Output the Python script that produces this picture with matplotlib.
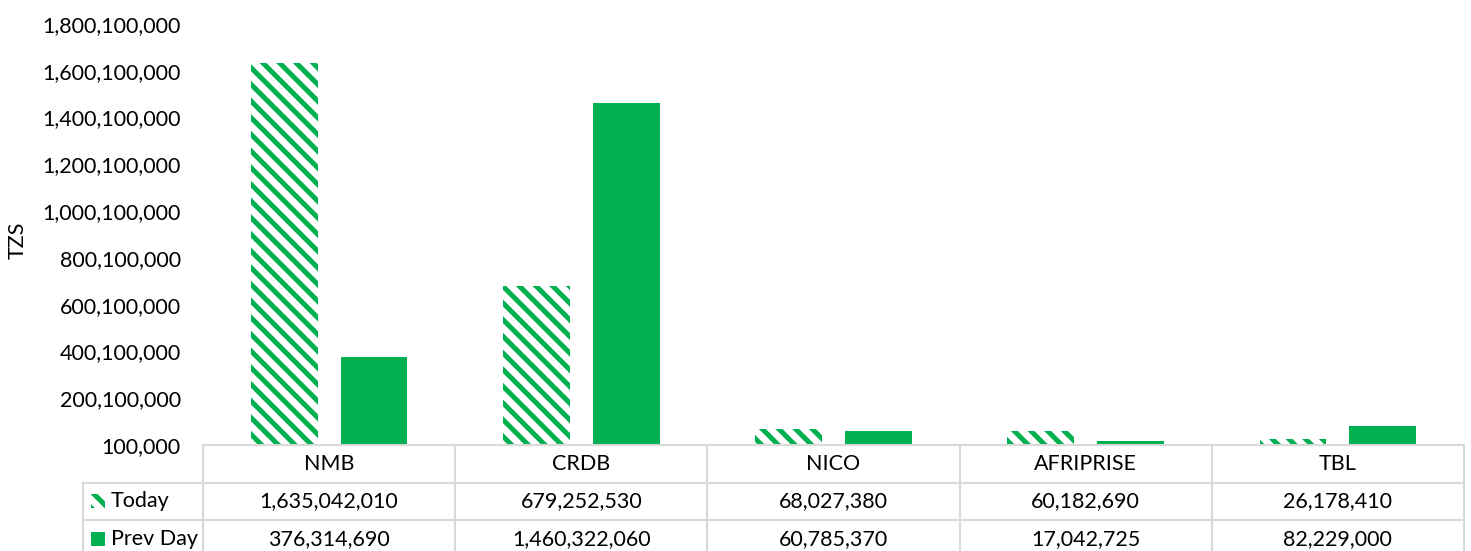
import matplotlib
matplotlib.use("Agg")
import matplotlib.pyplot as plt
from matplotlib.patches import Rectangle
from matplotlib.transforms import blended_transform_factory
from matplotlib.ticker import FuncFormatter

categories = ["NMB", "CRDB", "NICO", "AFRIPRISE", "TBL"]
today = [1635042010, 679252530, 68027380, 60182690, 26178410]
prev_day = [376314690, 1460322060, 60785370, 17042725, 82229000]
series_names = ["Today", "Prev Day"]
y_ticks = [100000 + 200000000 * i for i in range(10)]

GREEN = "#00B050"
GRID = "#D9D9D9"
FONT = "Lato"
FS = 15.5

plt.rcParams["font.family"] = [FONT, "DejaVu Sans"]
plt.rcParams["hatch.linewidth"] = 3.6

W, H = 1471, 551
fig = plt.figure(figsize=(W / 100, H / 100), dpi=100)
ax = fig.add_axes([203 / W, (H - 445) / H, (1464 - 203) / W, (445 - 24) / H])

ymin, ymax = y_ticks[0], y_ticks[-1]
x = list(range(len(categories)))
bw = 0.265
off = 0.178
ax.bar([i - off for i in x], [v - ymin for v in today], bottom=ymin, width=bw,
       facecolor="white", edgecolor=GREEN, hatch="\\\\", linewidth=0)
ax.bar([i + off for i in x], [v - ymin for v in prev_day], bottom=ymin, width=bw,
       color=GREEN, linewidth=0)

ax.set_xlim(-0.5, len(categories) - 0.5)
ax.set_ylim(ymin, ymax)
ax.set_yticks(y_ticks)
ax.yaxis.set_major_formatter(FuncFormatter(lambda v, p: f"{int(round(v)):,}"))
ax.tick_params(axis="y", length=0, pad=16, labelsize=FS, labelcolor="#000000")
ax.set_xticks([])
for s in ax.spines.values():
    s.set_visible(False)
ax.set_ylabel("TZS", fontsize=FS)
ax.yaxis.set_label_coords((28 - 203) / (1464 - 203), (445 - 240) / (445 - 24))

# data table below axes
px = 1.0 / (445 - 24)  # axes fraction per pixel vertically
tr = blended_transform_factory(ax.transData, ax.transAxes)
unit = (1464 - 203) / len(categories)  # pixels per category
left_x = -0.5 - 120 / unit
row_h = 37.5 * px
y_top = 0.0
y1 = -row_h
y2 = -2 * row_h
y3 = -3 * row_h - 0.2
lkw = dict(color=GRID, lw=1.5, transform=tr, clip_on=False)
ax.plot([-0.5, len(categories) - 0.5], [y_top, y_top], **lkw)
ax.plot([left_x, len(categories) - 0.5], [y1, y1], **lkw)
ax.plot([left_x, len(categories) - 0.5], [y2, y2], **lkw)
ax.plot([left_x, left_x], [y1, y3], **lkw)
for b in range(len(categories) + 1):
    ax.plot([b - 0.5, b - 0.5], [y_top, y3], **lkw)

for i, c in enumerate(categories):
    ax.text(i, (y_top + y1) / 2, c, ha="center", va="center", fontsize=FS, transform=tr)
    ax.text(i, (y1 + y2) / 2, f"{today[i]:,}", ha="center", va="center", fontsize=FS, transform=tr)
    ax.text(i, y2 - row_h / 2, f"{prev_day[i]:,}", ha="center", va="center", fontsize=FS, transform=tr)

# legend keys in row headers
key = 14 / unit
key_h = 14 * px
kx = left_x + 8 / unit
for r, (name, yc) in enumerate(zip(series_names, [(y1 + y2) / 2, y2 - row_h / 2])):
    if r == 0:
        rect = Rectangle((kx, yc - key_h / 2), key, key_h, facecolor="white", edgecolor=GREEN,
                         hatch="\\\\", linewidth=0, transform=tr, clip_on=False)
    else:
        rect = Rectangle((kx, yc - key_h / 2), key, key_h, facecolor=GREEN, linewidth=0,
                         transform=tr, clip_on=False)
    ax.add_patch(rect)
    ax.text(kx + key + 6 / unit, yc, name, ha="left", va="center", fontsize=FS, transform=tr)

fig.savefig("out.png", dpi=100)
